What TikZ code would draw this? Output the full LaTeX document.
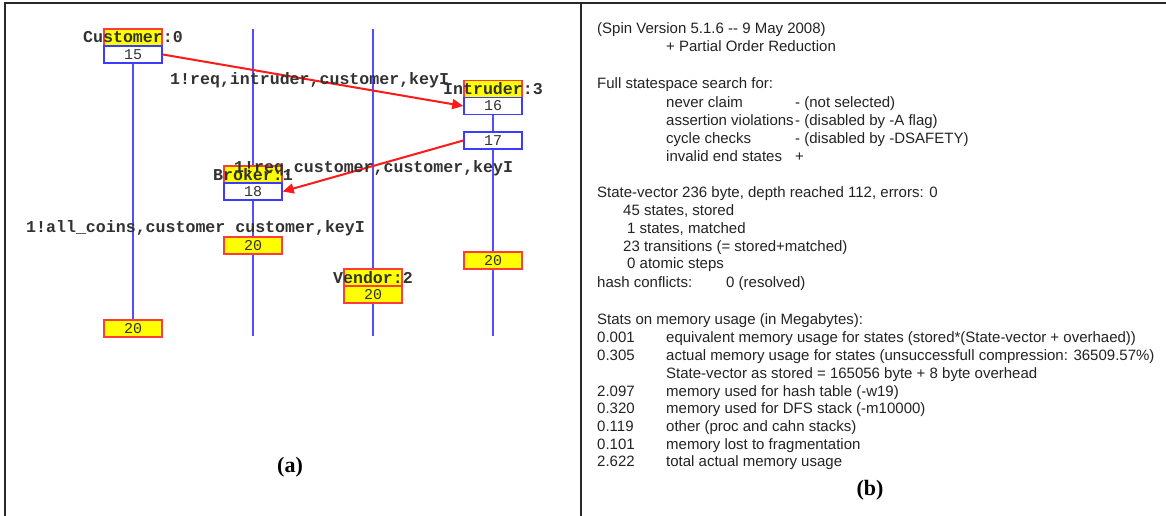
\documentclass[tikz,border=0pt]{standalone}
\usepackage{fontspec}
\usetikzlibrary{arrows.meta}
\newfontfamily\monof{Liberation Mono}
\newfontfamily\sansf{Liberation Sans}
\newfontfamily\seriff{Liberation Serif}
\definecolor{boxyel}{RGB}{255,255,0}
\definecolor{boxred}{RGB}{255,60,60}
\definecolor{boxblue}{RGB}{60,60,255}
\definecolor{lifeblue}{RGB}{80,80,255}
\definecolor{arrred}{RGB}{255,25,25}
\definecolor{labgray}{RGB}{50,50,50}
\definecolor{rtext}{RGB}{35,35,35}
\definecolor{framec}{RGB}{40,40,40}
\pgfdeclarelayer{bg}
\pgfsetlayers{bg,main}
\begin{document}
\begin{tikzpicture}[x=1pt,y=-1pt,
  hdr/.style={draw=boxred, fill=boxyel, line width=1.5pt, minimum width=58pt, minimum height=17pt, inner sep=0pt},
  numbox/.style={draw=boxblue, fill=white, line width=1.5pt, minimum width=58pt, minimum height=17pt, inner sep=0pt, font=\monof\fontsize{15}{15}\selectfont, text=labgray},
  endbox/.style={hdr, font=\monof\fontsize{15}{15}\selectfont, text=labgray},
  plabel/.style={font=\monof\bfseries\fontsize{16.6}{16.6}\selectfont, text=labgray, inner sep=0pt},
  mlabel/.style={plabel, anchor=base west},
  msg/.style={draw=arrred, line width=2pt, -{Triangle[length=11pt,width=10pt]}},
  life/.style={draw=lifeblue, line width=2pt},
  rt/.style={font=\sansf\fontsize{15}{18}\selectfont, anchor=base west, inner sep=0pt, text=rtext},
  captext/.style={font=\seriff\bfseries\fontsize{22}{22}\selectfont, text=black, inner sep=0pt},
  framestyle/.style={draw=framec, line width=2pt}
]
\useasboundingbox (0,0) rectangle (1166,516);
\begin{pgfonlayer}{bg}
\fill[white] (0,0) rectangle (1166,516);
\end{pgfonlayer}
% frame
\draw[framestyle] (4,3) -- (1166,3);
\draw[framestyle] (5,3) -- (5,516);
\draw[framestyle] (581,3) -- (581,516);

% lifeline ends
\coordinate (btop) at (253,29);
\coordinate (bbot) at (253,336);
\coordinate (vtop) at (373,29);
\coordinate (vbot) at (373,336);
\coordinate (ibot) at (493,336);

% Customer
\node[hdr] (ch) at (133,37.5) {};
\node[plabel] (chl) at (ch.center) {Customer:0};
\node[numbox] (c15) at (133,54.5) {15};
\node[endbox] (c20) at (133,328.5) {20};

% Broker
\node[hdr] (bh) at (253,174.5) {};
\node[numbox] (b18) at (253,191.5) {18};
\node[endbox] (b20) at (253,245.5) {20};

% Vendor
\node[hdr] (vh) at (373,277.5) {};
\node[plabel] (vhl) at (vh.center) {Vendor:2};
\node[endbox] (v20) at (373,294.5) {20};

% Intruder
\node[hdr] (ih) at (493,89) {};
\node[plabel] (ihl) at (ih.center) {Intruder:3};
\node[numbox] (i16) at (493,106) {16};
\node[numbox] (i17) at (493,140.5) {17};
\node[endbox] (i20) at (493,260.5) {20};

% lifelines
\begin{pgfonlayer}{bg}
\draw[life] (c15.south) -- (c20.north);
\draw[life] (btop) -- (bbot);
\draw[life] (vtop) -- (vbot);
\draw[life] (i16.south) -- (i17.north);
\draw[life] (i17.south) -- (ibot);
\end{pgfonlayer}

% messages
\draw[msg] (c15.east) -- (i16.west);
\draw[msg] (i17.west) -- (b18.east);
\node[mlabel] (m1) at (170,85) {1!req,intruder,customer,keyI};
\node[mlabel] (m2) at (234,172) {1!req,customer,customer,keyI};
\node[plabel] (bhl) at (bh.center) {Broker:1};
\node[mlabel] (m3) at (26,232) {1!all\_coins,customer customer,keyI};

\node[captext] (capa) at (290,467) {(a)};

% right panel
\node[rt] (r1) at (597,34) {(Spin Version 5.1.6 -{}- 9 May 2008)};
\node[rt] (r2) at (666,52) {+ Partial Order Reduction};
\node[rt] (r3) at (597,89) {Full statespace search for:};
\node[rt] (r4) at (666,107) {never claim};
\node[rt] (r4b) at (795,107) {- (not selected)};
\node[rt] (r5) at (666,125) {assertion violations};
\node[rt] (r5b) at (795,125) {- (disabled by -A flag)};
\node[rt] (r6) at (666,143) {cycle checks};
\node[rt] (r6b) at (795,143) {- (disabled by -DSAFETY)};
\node[rt] (r7) at (666,161) {invalid end states};
\node[rt] (r7b) at (795,161) {+};
\node[rt] (r8) at (597,197) {State-vector 236 byte, depth reached 112, errors: 0};
\node[rt] (r9) at (623,215) {45 states, stored};
\node[rt] (r10) at (627,233) {1 states, matched};
\node[rt] (r11) at (623,251) {23 transitions (= stored+matched)};
\node[rt] (r12) at (627,268) {0 atomic steps};
\node[rt] (r13) at (597,287) {hash conflicts:};
\node[rt] (r13b) at (726,287) {0 (resolved)};
\node[rt] (r14) at (597,324) {Stats on memory usage (in Megabytes):};
\node[rt] (r15) at (597,342) {0.001};
\node[rt] (r15b) at (666,342) {equivalent memory usage for states (stored*(State-vector + overhaed))};
\node[rt] (r16) at (597,360) {0.305};
\node[rt] (r16b) at (666,360) {actual memory usage for states (unsuccessfull compression: 36509.57\%)};
\node[rt] (r17b) at (666,378) {State-vector as stored = 165056 byte + 8 byte overhead};
\node[rt] (r18) at (597,396) {2.097};
\node[rt] (r18b) at (666,396) {memory used for hash table (-w19)};
\node[rt] (r19) at (597,413) {0.320};
\node[rt] (r19b) at (666,413) {memory used for DFS stack (-m10000)};
\node[rt] (r20) at (597,431) {0.119};
\node[rt] (r20b) at (666,431) {other (proc and cahn stacks)};
\node[rt] (r21) at (597,449) {0.101};
\node[rt] (r21b) at (666,449) {memory lost to fragmentation};
\node[rt] (r22) at (597,466) {2.622};
\node[rt] (r22b) at (666,466) {total actual memory usage};

\node[captext] (capb) at (870,490) {(b)};
\end{tikzpicture}
\end{document}
